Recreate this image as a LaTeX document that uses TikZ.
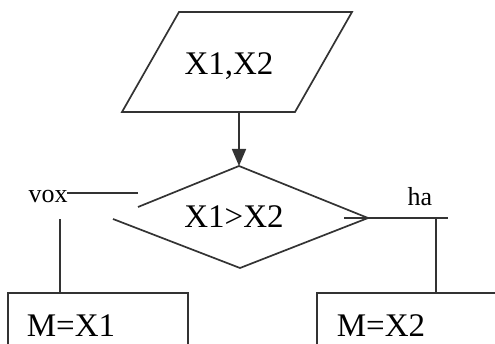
\documentclass[tikz,border=0pt]{standalone}
\usepackage{fontspec}
\setmainfont{Liberation Serif}
\usetikzlibrary{arrows.meta}
\begin{document}
\begin{tikzpicture}[x=1pt,y=1pt,
  ln/.style={draw=black!80,line width=1.7pt},
  big/.style={font=\fontsize{33}{36}\selectfont,inner sep=0pt,anchor=base},
  lbl/.style={font=\fontsize{26}{28}\selectfont,inner sep=0pt,anchor=base}]
\useasboundingbox (0,0) rectangle (495,343);
\clip (0,0) rectangle (495,343);
% input parallelogram
\coordinate (p1) at (179,331);
\coordinate (p2) at (352,331);
\coordinate (p3) at (295,231);
\coordinate (p4) at (122,231);
\draw[ln] (p1) -- (p2) -- (p3) -- (p4) -- cycle;
\node[big] (in) at (229,268) {X1,X2};
\coordinate (inb) at (239,231);
% decision
\coordinate (dt) at (239,177);
\coordinate (dr) at (368,125);
\coordinate (db) at (240,75);
\coordinate (dl) at (113,124);
\coordinate (dul) at (138,136);
\draw[ln] (dul) -- (dt) -- (dr) -- (db) -- (dl);
\node[big] (cond) at (234,116) {X1>X2};
\draw[ln,-{Triangle[length=17pt,width=14pt]}] (inb) -- (dt);
% left branch
\node[lbl] (vox) at (48,140) {vox};
\coordinate (vl1) at (138,150);
\coordinate (vl2) at (67,150);
\draw[ln] (vl1) -- (vl2);
\coordinate (vv1) at (60,124);
\node[draw=black!80,line width=1.7pt,minimum width=180pt,minimum height=60pt,inner sep=0pt] (m1) at (98,20) {};
\draw[ln] (vv1) -- (vv1 |- m1.north);
\node[big] (t1) at (71,7) {M=X1};
% right branch
\node[lbl] (ha) at (420,138) {ha};
\coordinate (hl1) at (344,125);
\coordinate (hl2) at (448,125);
\draw[ln] (hl1) -- (hl2);
\coordinate (hv1) at (436,125);
\node[draw=black!80,line width=1.7pt,minimum width=200pt,minimum height=60pt,inner sep=0pt] (m2) at (417,20) {};
\draw[ln] (hv1) -- (hv1 |- m2.north);
\node[big] (t2) at (381,7) {M=X2};
\end{tikzpicture}
\end{document}
